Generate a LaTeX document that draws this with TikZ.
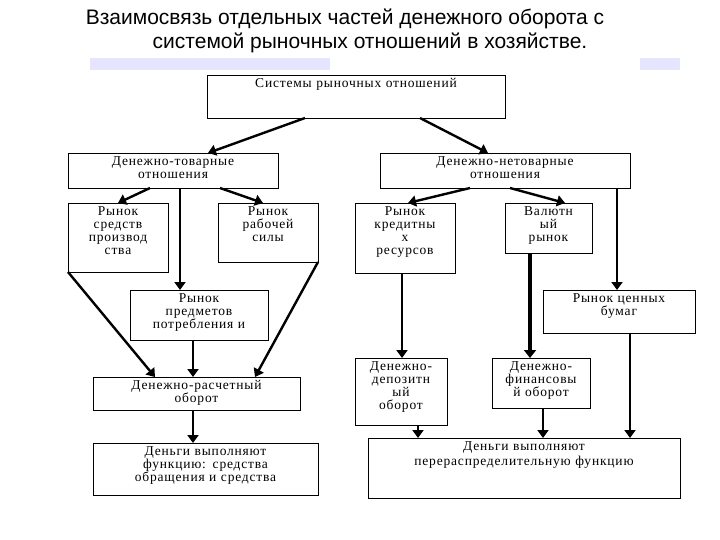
\documentclass[tikz,border=0pt]{standalone}
\usepackage{fontspec}
\setmainfont{Liberation Serif}
\newfontfamily\titlefont{Liberation Sans}
\usetikzlibrary{arrows.meta}
\begin{document}
\begin{tikzpicture}[x=1pt,y=-1pt,
  bx/.style={draw,line width=0.8pt,font=\fontsize{13.5}{13}\selectfont\addfontfeatures{LetterSpace=6},align=center,inner sep=1pt},
  ar/.style={line width=2.4pt,-{Triangle[width=11pt,length=8pt]}},
  arw/.style={line width=4.5pt,-{Triangle[width=12pt,length=8pt]}}]
\useasboundingbox (0,0) rectangle (720,540);
\fill[white] (0,0) rectangle (720,540);
\fill[blue!10] (90,58) rectangle (330,70);
\fill[blue!10] (640,58) rectangle (680,70);
\node[font=\titlefont\fontsize{21}{24}\selectfont,align=center] (title) at (345,31)
  {Взаимосвязь отдельных частей денежного оборота с\\\hspace*{50pt}системой рыночных отношений в хозяйстве.};
\newcommand\bxat[6]{\draw[line width=0.8pt] (#2,#3) rectangle (#4,#5);
  \node[bx,draw=none,anchor=north,text width=#4pt-#2pt] (#1) at ({(#2+#4)/2},#3+2) {#6};
  \coordinate (#1-nw) at (#2,#3); \coordinate (#1-se) at (#4,#5);}
\bxat{top}{207}{75}{505}{118}{Системы рыночных отношений}
\bxat{dt}{68}{153}{278}{188}{Денежно-товарные\\отношения}
\bxat{dnt}{380}{153}{630}{188}{Денежно-нетоварные\\отношения}
\bxat{rsp}{68}{203}{168}{272}{Рынок\\средств\\производ\\ства}
\bxat{rrs}{218}{203}{318}{262}{Рынок\\рабочей\\силы}
\bxat{rkr}{355}{203}{455}{273}{Рынок\\кредитны\\х\\ресурсов}
\bxat{vr}{505}{203}{592}{253}{Валютн\\ый\\рынок}
\bxat{rpp}{130}{290}{268}{340}{Рынок\\предметов\\потребления и}
\bxat{rcb}{543}{290}{695}{333}{Рынок ценных\\бумаг}
\bxat{dro}{93}{377}{300}{410}{Денежно-расчетный\\оборот}
\bxat{ddo}{355}{358}{447}{425}{Денежно-\\депозитн\\ый\\оборот}
\bxat{dfo}{492}{358}{590}{408}{Денежно-\\финансовы\\й оборот}
\bxat{dvs}{93}{443}{318}{495}{Деньги выполняют\\функцию: средства\\обращения и средства}
\bxat{dvr}{368}{438}{680}{498}{\vspace{2pt}Деньги выполняют\\перераспределительную функцию}
\draw[ar] (305,118) -- (208,153);
\draw[ar] (420,118) -- (488,153);
\draw[ar] (150,188) -- (118,203);
\draw[ar] (220,188) -- (263,203);
\draw[ar] (180,188) -- (180,290);
\draw[ar] (68,272) -- (155,377);
\draw[ar] (318,262) -- (255,377);
\draw[ar] (193,340) -- (193,377);
\draw[ar] (193,410) -- (193,443);
\draw[ar] (470,188) -- (408,203);
\draw[ar] (510,188) -- (565,203);
\draw[ar] (617,188) -- (617,290);
\draw[ar] (402,273) -- (402,358);
\draw[arw] (530,253) -- (530,358);
\draw[ar] (630,333) -- (630,438);
\draw[ar] (418,425) -- (418,438);
\draw[ar] (543,408) -- (543,438);
\end{tikzpicture}
\end{document}
